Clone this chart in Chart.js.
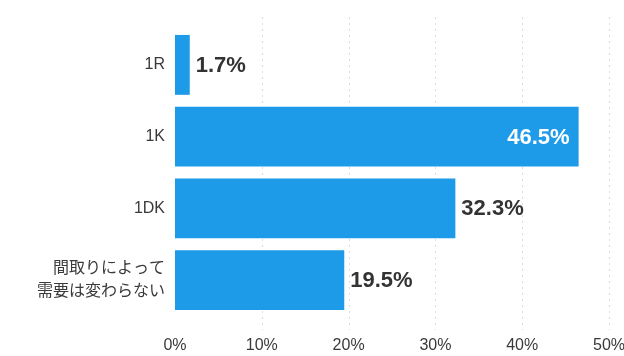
<!DOCTYPE html>
<html>
<head>
<meta charset="utf-8">
<script src="https://cdn.jsdelivr.net/npm/chart.js@4/dist/chart.umd.min.js"></script>
<style>
  html, body { margin: 0; padding: 0; background: #fff; }
  #wrap { width: 624px; height: 356px; }
</style>
</head>
<body>
<div id="wrap"><canvas id="madori"></canvas></div>
<script>
const categories = ['1R', '1K', '1DK', ['間取りによって', '需要は変わらない']];
const shares = [1.7, 46.5, 32.3, 19.5];
const tickValues = [0, 10, 20, 30, 40, 50];

const barColor = 'rgb(30, 155, 232)';
const fontFamily = '"Liberation Sans", "Noto Sans CJK JP", sans-serif';

// dotted vertical grid, a bit taller than the plot area like the original
const gridPlugin = {
  id: 'dottedGrid',
  beforeDatasetsDraw(chart) {
    const ctx = chart.ctx;
    const x = chart.scales.x;
    ctx.save();
    ctx.strokeStyle = '#dcdcdc';
    ctx.lineWidth = 1;
    ctx.setLineDash([2, 4]);
    tickValues.slice(1).forEach(v => {
      const px = Math.round(x.getPixelForValue(v)) + 0.5;
      ctx.beginPath();
      ctx.moveTo(px, chart.chartArea.top - 12);
      ctx.lineTo(px, chart.chartArea.bottom + 14);
      ctx.stroke();
    });
    ctx.restore();
  }
};

// value labels next to / inside the bars
const labelPlugin = {
  id: 'valueLabels',
  afterDatasetsDraw(chart) {
    const ctx = chart.ctx;
    const meta = chart.getDatasetMeta(0);
    ctx.save();
    ctx.font = 'bold 22px ' + fontFamily;
    ctx.textBaseline = 'middle';
    meta.data.forEach((bar, i) => {
      const txt = shares[i].toFixed(1) + '%';
      if (shares[i] > 40) {
        ctx.fillStyle = '#fff';
        ctx.textAlign = 'right';
        ctx.fillText(txt, bar.x - 9, bar.y + 1);
      } else {
        ctx.fillStyle = '#333';
        ctx.textAlign = 'left';
        ctx.fillText(txt, bar.x + 6, bar.y + 1);
      }
    });
    ctx.restore();
  }
};

const madoriconfig = {
  type: 'bar',
  data: {
    labels: categories,
    datasets: [{
      data: shares,
      backgroundColor: barColor,
      borderWidth: 0,
      barPercentage: 1,
      categoryPercentage: 0.835
    }]
  },
  options: {
    indexAxis: 'y',
    responsive: true,
    maintainAspectRatio: false,
    animation: false,
    layout: { padding: { top: 29, right: 15, left: 0, bottom: 0 } },
    plugins: { legend: { display: false }, tooltip: { enabled: false } },
    scales: {
      x: {
        min: 0,
        max: 50,
        border: { display: false },
        grid: { display: false, drawTicks: false },
        afterFit(scale) {
          scale.height = 40;
          scale.paddingRight = 0;
        },
        ticks: {
          stepSize: 10,
          padding: 20,
          color: '#3a3a3a',
          font: { family: fontFamily, size: 16 },
          callback: v => v + '%'
        }
      },
      y: {
        border: { display: false },
        grid: { display: false, drawTicks: false },
        afterFit(scale) {
          scale.width = 175;
          scale.paddingTop = 0;
          scale.paddingBottom = 0;
        },
        ticks: {
          padding: 10,
          color: '#3a3a3a',
          font: { family: fontFamily, size: 16, lineHeight: 1.45 }
        }
      }
    }
  },
  plugins: [gridPlugin, labelPlugin]
};

const madorichart = new Chart(document.getElementById('madori'), madoriconfig);
</script>
</body>
</html>
